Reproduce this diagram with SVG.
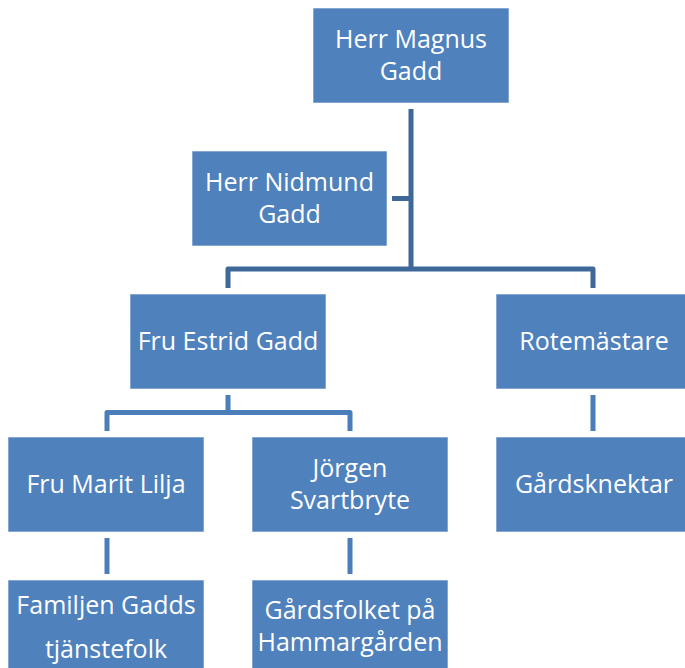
<svg xmlns="http://www.w3.org/2000/svg" width="685" height="668" viewBox="0 0 685 668">
<style>
.box{fill:#4F81BD;stroke:#ffffff;stroke-opacity:0.6;stroke-width:1}
.t{font-family:"Open Sans","Liberation Sans",sans-serif;font-size:25px;fill:#ffffff;text-anchor:middle}
.c1{fill:none;stroke:#3E6898;stroke-width:5;stroke-linejoin:round}
.c2{fill:none;stroke:#4A7DB9;stroke-width:5;stroke-linejoin:round}
</style>
<rect width="685" height="668" fill="#ffffff"/>
<g id="connectors">
<path class="c1" d="M411 109 V269"/>
<path class="c1" d="M392 198.5 H411"/>
<path class="c1" d="M228 288 V269 H593 V288"/>
<path class="c2" d="M228 395 V412.5"/>
<path class="c2" d="M107 431 V412.5 H350 V431"/>
<path class="c2" d="M593 395 V431"/>
<path class="c2" d="M107 538 V574"/>
<path class="c2" d="M350 538 V574"/>
</g>
<g id="magnus"><rect class="box" x="313" y="8" width="196" height="95"/><text class="t" x="411" y="48">Herr Magnus</text><text class="t" x="411" y="80">Gadd</text></g>
<g id="nidmund"><rect class="box" x="192" y="151" width="195" height="95"/><text class="t" x="289.5" y="191">Herr Nidmund</text><text class="t" x="289.5" y="223">Gadd</text></g>
<g id="estrid"><rect class="box" x="130" y="294" width="196" height="95"/><text class="t" x="228" y="350">Fru Estrid Gadd</text></g>
<g id="rotemastare"><rect class="box" x="496" y="294" width="196" height="95"/><text class="t" x="594" y="350">Rotemästare</text></g>
<g id="marit"><rect class="box" x="8" y="437" width="196" height="95"/><text class="t" x="106" y="493">Fru Marit Lilja</text></g>
<g id="jorgen"><rect class="box" x="252" y="437" width="196" height="95"/><text class="t" x="350" y="477">Jörgen</text><text class="t" x="350" y="509">Svartbryte</text></g>
<g id="gardsknektar"><rect class="box" x="496" y="437" width="196" height="95"/><text class="t" x="594" y="493">Gårdsknektar</text></g>
<g id="tjanstefolk"><rect class="box" x="8" y="580" width="196" height="95"/><text class="t" x="106" y="614">Familjen Gadds</text><text class="t" x="106" y="658">tjänstefolk</text></g>
<g id="gardsfolket"><rect class="box" x="252" y="580" width="196" height="95"/><text class="t" x="350" y="619">Gårdsfolket på</text><text class="t" x="350" y="651">Hammargården</text></g>
</svg>
